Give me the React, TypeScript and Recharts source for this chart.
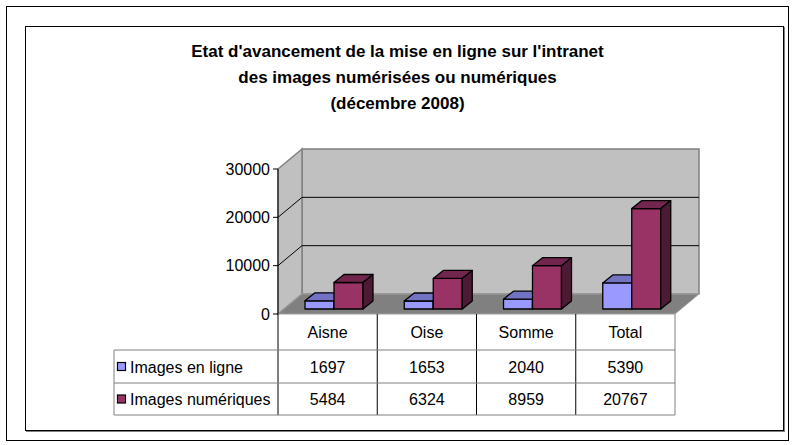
import React from 'react';
import { BarChart, Bar, XAxis, YAxis, ReferenceArea } from 'recharts';

const categories = ['Aisne', 'Oise', 'Somme', 'Total'];
const imagesEnLigne = [1697, 1653, 2040, 5390];
const imagesNumeriques = [5484, 6324, 8959, 20767];
const seriesNames = ['Images en ligne', 'Images numériques'];
const yTicks = [0, 10000, 20000, 30000];
const titleLines = [
  "Etat d'avancement de la mise en ligne sur l'intranet",
  'des images numérisées ou numériques',
  '(décembre 2008)',
];

const data = categories.map((cat, i) => ({
  cat,
  enLigne: imagesEnLigne[i],
  numeriques: imagesNumeriques[i],
}));

const FONT = '"Liberation Sans", Arial, sans-serif';

// wall depth (3D offset)
const DX = 24;
const DY = -20;
// bar depth + position inside the floor depth
const BDX = 10;
const BDY = -8;
const BSHIFT_X = 6;
const BSHIFT_Y = -5;

const PLOT = { left: 278, right: 675, top: 169, bottom: 314 };
const YMAX = yTicks[yTicks.length - 1];

const colors = {
  blue: { front: '#9999FF', top: '#7373C4', side: '#5C5CA3' },
  purple: { front: '#993366', top: '#73264D', side: '#4D1A33' },
};

const make3DBar = (c: { front: string; top: string; side: string }) => (props: any) => {
  const { x, y, width, height } = props;
  if (width == null || height == null) return null;
  const fx = x + BSHIFT_X;
  const fy = y + BSHIFT_Y;
  const w = width;
  const h = height;
  return (
    <g stroke="#000" strokeWidth={1.3} strokeLinejoin="round">
      <rect x={fx} y={fy} width={w} height={h} fill={c.front} />
      <polygon
        points={`${fx},${fy} ${fx + BDX},${fy + BDY} ${fx + w + BDX},${fy + BDY} ${fx + w},${fy}`}
        fill={c.top}
      />
      <polygon
        points={`${fx + w},${fy} ${fx + w + BDX},${fy + BDY} ${fx + w + BDX},${fy + h + BDY} ${fx + w},${fy + h}`}
        fill={c.side}
      />
    </g>
  );
};

const Walls = (props: any) => {
  const { x, y, width, height } = props;
  const x0 = x;
  const x1 = x + width;
  const yTop = y;
  const yBot = y + height;
  const vy = (v: number) => yBot - (v / YMAX) * height;
  return (
    <g>
      {/* back wall */}
      <polygon
        points={`${x0 + DX},${yTop + DY} ${x1 + DX},${yTop + DY} ${x1 + DX},${yBot + DY} ${x0 + DX},${yBot + DY}`}
        fill="#C0C0C0"
        stroke="#808080"
        strokeWidth={1.5}
      />
      {/* left wall */}
      <polygon
        points={`${x0},${yTop} ${x0 + DX},${yTop + DY} ${x0 + DX},${yBot + DY} ${x0},${yBot}`}
        fill="#C0C0C0"
        stroke="#808080"
        strokeWidth={1.5}
      />
      {/* floor */}
      <polygon
        points={`${x0},${yBot} ${x1},${yBot} ${x1 + DX},${yBot + DY} ${x0 + DX},${yBot + DY}`}
        fill="#808080"
        stroke="#A0A0A0"
        strokeWidth={1}
      />
      {yTicks
        .filter((v) => v > 0 && v < YMAX)
        .map((v) => (
          <g key={v} stroke="#000" strokeWidth={1}>
            <line x1={x0} y1={vy(v)} x2={x0 + DX} y2={vy(v) + DY} />
            <line x1={x0 + DX} y1={vy(v) + DY} x2={x1 + DX} y2={vy(v) + DY} />
          </g>
        ))}
    </g>
  );
};

const DataTable = () => {
  const colW = (PLOT.right - PLOT.left) / categories.length;
  const legendLeft = 114;
  const rowTops = [314, 350, 383, 415];
  const rows = [imagesEnLigne, imagesNumeriques];
  const keyColors = [colors.blue.front, colors.purple.front];
  return (
    <svg
      width={795}
      height={445}
      style={{ position: 'absolute', left: 0, top: 0, pointerEvents: 'none' }}
    >
      {/* table borders */}
      <g stroke="#000" strokeWidth={1} fill="none">
        {categories.map((_, i) => (
          <line
            key={`hv${i}`}
            x1={PLOT.left + (i + 1) * colW}
            y1={rowTops[0]}
            x2={PLOT.left + (i + 1) * colW}
            y2={rowTops[3]}
            stroke={i === categories.length - 1 ? '#808080' : '#000'}
          />
        ))}
        <line x1={PLOT.left} y1={rowTops[0]} x2={PLOT.left} y2={rowTops[3]} />
        <line x1={legendLeft} y1={rowTops[1]} x2={legendLeft} y2={rowTops[3]} stroke="#808080" />
        <line x1={legendLeft} y1={rowTops[1]} x2={PLOT.right} y2={rowTops[1]} stroke="#808080" />
        <line x1={legendLeft} y1={rowTops[2]} x2={PLOT.right} y2={rowTops[2]} stroke="#808080" />
        <line x1={legendLeft} y1={rowTops[3]} x2={PLOT.right} y2={rowTops[3]} stroke="#808080" />
      </g>
      {categories.map((c, i) => (
        <text
          key={`c${i}`}
          x={PLOT.left + (i + 0.5) * colW}
          y={(rowTops[0] + rowTops[1]) / 2 + 6}
          textAnchor="middle"
          fontFamily={FONT}
          fontSize={16}
        >
          {c}
        </text>
      ))}
      {rows.map((vals, r) => (
        <g key={`r${r}`}>
          <rect
            x={legendLeft + 3.5}
            y={(rowTops[r + 1] + rowTops[r + 2]) / 2 - 4}
            width={8}
            height={8}
            fill={keyColors[r]}
            stroke="#000"
            strokeWidth={1.2}
          />
          <text
            x={legendLeft + 16}
            y={(rowTops[r + 1] + rowTops[r + 2]) / 2 + 6}
            fontFamily={FONT}
            fontSize={16}
          >
            {seriesNames[r]}
          </text>
          {vals.map((v, i) => (
            <text
              key={i}
              x={PLOT.left + (i + 0.5) * colW}
              y={(rowTops[r + 1] + rowTops[r + 2]) / 2 + 6}
              textAnchor="middle"
              fontFamily={FONT}
              fontSize={16}
            >
              {v}
            </text>
          ))}
        </g>
      ))}
    </svg>
  );
};

export default function App() {
  return (
    <div style={{ position: 'relative', width: 795, height: 445, background: '#fff' }}>
      <style>{'body{margin:0}'}</style>
      {/* outer frame */}
      <div
        style={{
          position: 'absolute',
          left: 6,
          top: 6,
          width: 783,
          height: 435,
          border: '1.5px solid #000',
          boxSizing: 'border-box',
        }}
      />
      {/* chart area frame */}
      <div
        style={{
          position: 'absolute',
          left: 25,
          top: 26,
          width: 759,
          height: 405,
          border: '1px solid #000',
          boxShadow: '1px 1px 0 #808080',
          boxSizing: 'border-box',
        }}
      />
      <div
        style={{
          position: 'absolute',
          left: 0,
          top: 39,
          width: 795,
          textAlign: 'center',
          fontFamily: FONT,
          fontWeight: 'bold',
          fontSize: 17,
          lineHeight: '26px',
        }}
      >
        {titleLines.map((t) => (
          <div key={t}>{t}</div>
        ))}
      </div>
      <div style={{ position: 'absolute', left: 0, top: 0 }}>
        <BarChart
          width={795}
          height={445}
          data={data}
          margin={{ top: PLOT.top, right: 795 - PLOT.right, bottom: 445 - PLOT.bottom, left: PLOT.left - 60 }}
          barGap={0}
          barSize={29}
        >
          <XAxis dataKey="cat" hide />
          <YAxis
            width={60}
            domain={[0, YMAX]}
            ticks={yTicks}
            interval={0}
            axisLine={{ stroke: '#000', strokeWidth: 1 }}
            tickLine={{ stroke: '#000', strokeWidth: 1 }}
            tickSize={5}
            tickMargin={3}
            tick={{ fontSize: 16, fill: '#000', fontFamily: FONT }}
          />
          <ReferenceArea y1={0} y2={YMAX} shape={<Walls />} ifOverflow="visible" />
          <Bar
            dataKey="enLigne"
            name={seriesNames[0]}
            shape={make3DBar(colors.blue)}
            isAnimationActive={false}
          />
          <Bar
            dataKey="numeriques"
            name={seriesNames[1]}
            shape={make3DBar(colors.purple)}
            isAnimationActive={false}
          />
        </BarChart>
      </div>
      <DataTable />
    </div>
  );
}
